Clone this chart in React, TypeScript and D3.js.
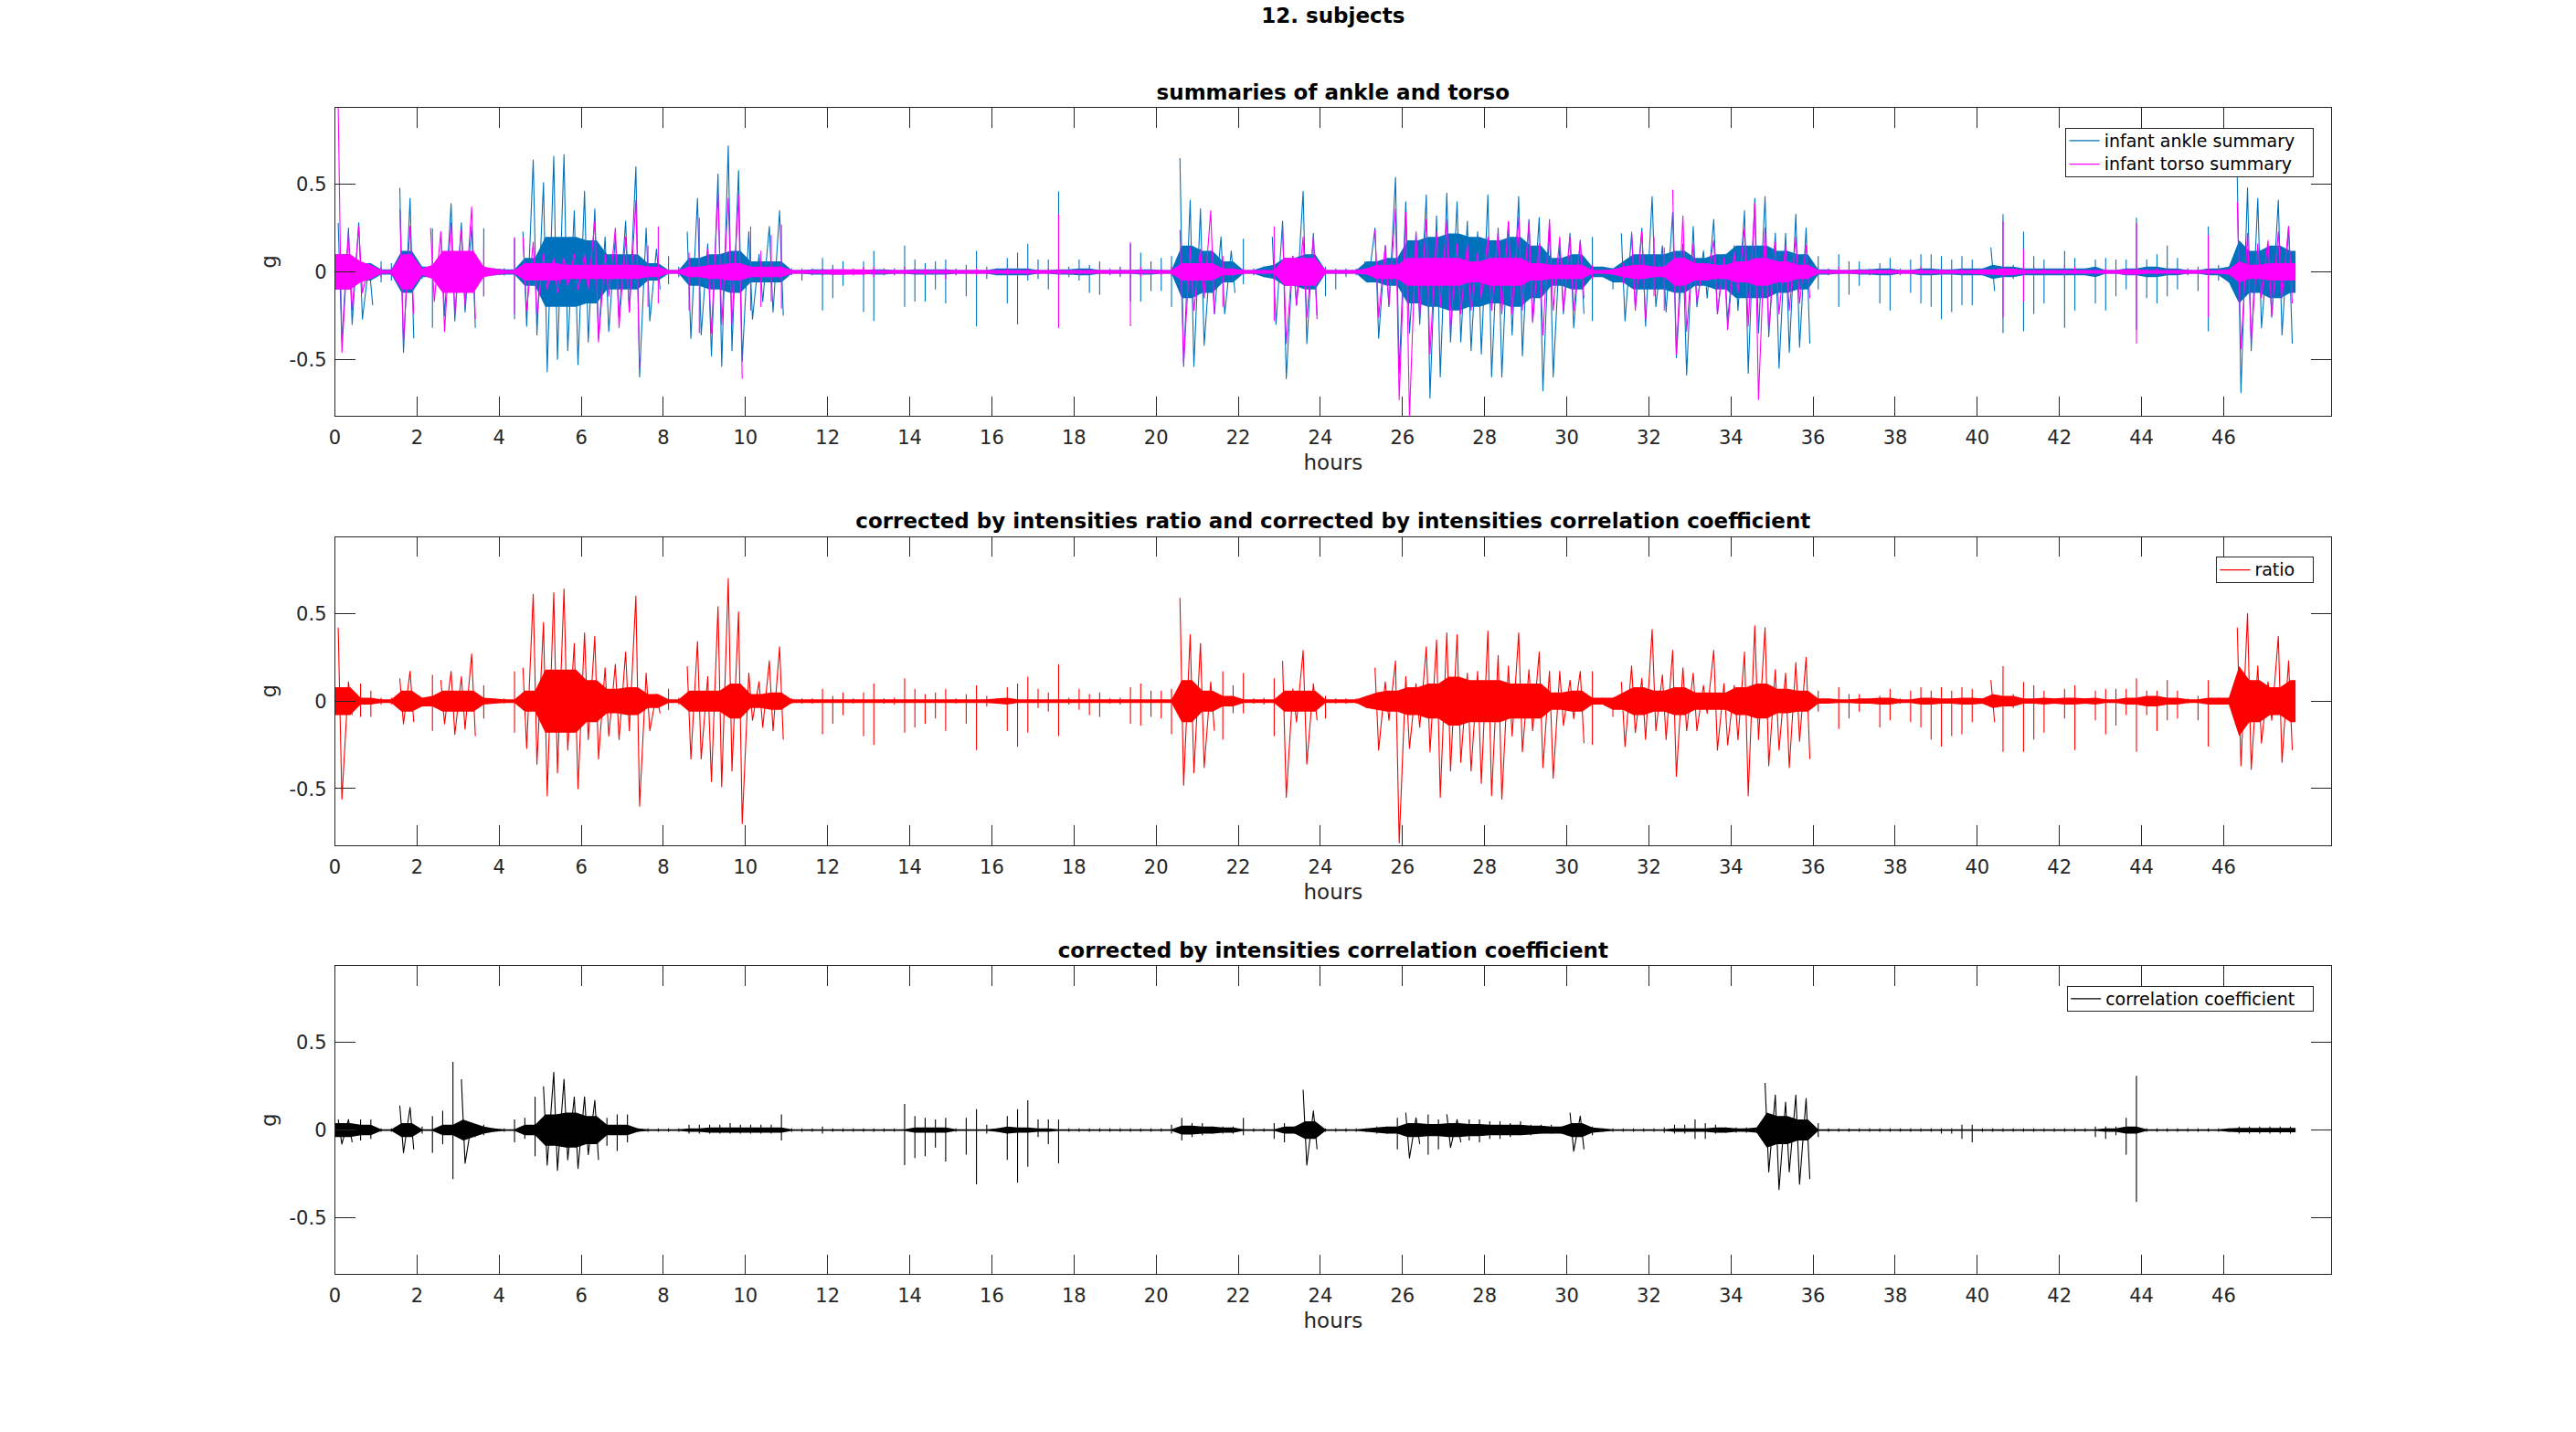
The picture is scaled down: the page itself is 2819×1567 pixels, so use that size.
import * as d3 from 'd3';

// hours covered by one envelope value
const BIN = 0.25;
const CORE_BIN = 0.5;
// band half-width above which consecutive quarter hours are drawn as one running trace
const DENSE = 0.04;

const xTicks = [0, 2, 4, 6, 8, 10, 12, 14, 16, 18, 20, 22, 24, 26, 28, 30, 32, 34, 36, 38, 40, 42, 44, 46];
const yTicks = [-0.5, 0, 0.5];
const xDomain = [0, 48.62];
const yDomain = [-0.825, 0.94];

// envelope: max / min per quarter hour, dense band half-width per half hour
const ankleHi = [
  0.28, 0.25, 0.28, 0.05, 0.06, 0.05, 0.48, 0.42, 0.03, 0.25, 0.23, 0.39, 0.28, 0.26, 0.25, 0.02,
  0.02, 0.19, 0.23, 0.64, 0.51, 0.66, 0.67, 0.35, 0.46, 0.36, 0.2, 0.2, 0.29, 0.6, 0.25, 0.13,
  0.09, 0.03, 0.23, 0.42, 0.16, 0.56, 0.72, 0.58, 0.23, 0.1, 0.26, 0.35, 0.02, 0.02, 0.02, 0.08,
  0.04, 0.06, 0.02, 0.06, 0.12, 0.02, 0.02, 0.15, 0.07, 0.05, 0.06, 0.07, 0.02, 0.04, 0.12, 0.03,
  0.02, 0.08, 0.11, 0.16, 0.07, 0.07, 0.46, 0.03, 0.07, 0.04, 0.06, 0.02, 0.03, 0.16, 0.11, 0.06,
  0.08, 0.09, 0.65, 0.41, 0.36, 0.12, 0.2, 0.12, 0.19, 0.02, 0.03, 0.2, 0.29, 0.09, 0.46, 0.22,
  0.03, 0.02, 0.02, 0.02, 0.06, 0.25, 0.15, 0.54, 0.4, 0.22, 0.44, 0.32, 0.45, 0.4, 0.29, 0.23,
  0.44, 0.25, 0.28, 0.43, 0.3, 0.31, 0.27, 0.15, 0.22, 0.18, 0.2, 0.03, 0.02, 0.22, 0.22, 0.25,
  0.43, 0.15, 0.34, 0.16, 0.26, 0.12, 0.3, 0.1, 0.15, 0.35, 0.42, 0.43, 0.22, 0.22, 0.33, 0.25,
  0.09, 0.02, 0.1, 0.06, 0.06, 0.02, 0.05, 0.08, 0.02, 0.07, 0.1, 0.1, 0.09, 0.07, 0.09, 0.07,
  0.02, 0.14, 0.33, 0.04, 0.23, 0.09, 0.07, 0.02, 0.12, 0.08, 0.02, 0.07, 0.08, 0.07, 0.07, 0.31,
  0.07, 0.1, 0.15, 0.08, 0.02, 0.03, 0.26, 0.04, 0.03, 0.54, 0.48, 0.42, 0.15, 0.41, 0.26,
];
const ankleLo = [
  -0.4, -0.3, -0.27, -0.19, -0.06, -0.05, -0.46, -0.38, -0.04, -0.32, -0.25, -0.28, -0.23, -0.32, -0.14, -0.02,
  -0.02, -0.27, -0.31, -0.36, -0.57, -0.5, -0.45, -0.53, -0.4, -0.38, -0.34, -0.26, -0.23, -0.6, -0.28, -0.1,
  -0.07, -0.03, -0.38, -0.36, -0.48, -0.54, -0.45, -0.51, -0.27, -0.17, -0.23, -0.25, -0.02, -0.05, -0.02, -0.22,
  -0.15, -0.08, -0.02, -0.23, -0.28, -0.02, -0.02, -0.2, -0.17, -0.17, -0.1, -0.18, -0.02, -0.14, -0.31, -0.04,
  -0.02, -0.18, -0.3, -0.05, -0.04, -0.1, -0.32, -0.03, -0.05, -0.12, -0.13, -0.02, -0.03, -0.17, -0.17, -0.11,
  -0.11, -0.2, -0.54, -0.54, -0.42, -0.24, -0.24, -0.12, -0.07, -0.02, -0.03, -0.3, -0.61, -0.19, -0.41, -0.25,
  -0.14, -0.1, -0.03, -0.02, -0.06, -0.38, -0.2, -0.58, -0.35, -0.3, -0.72, -0.6, -0.4, -0.4, -0.45, -0.47,
  -0.6, -0.6, -0.36, -0.48, -0.28, -0.68, -0.6, -0.24, -0.32, -0.24, -0.28, -0.03, -0.1, -0.28, -0.2, -0.31,
  -0.2, -0.23, -0.49, -0.59, -0.2, -0.15, -0.24, -0.28, -0.22, -0.58, -0.35, -0.37, -0.55, -0.46, -0.43, -0.41,
  -0.1, -0.02, -0.2, -0.13, -0.08, -0.02, -0.18, -0.22, -0.02, -0.12, -0.18, -0.2, -0.27, -0.23, -0.19, -0.19,
  -0.02, -0.11, -0.35, -0.04, -0.34, -0.24, -0.18, -0.02, -0.32, -0.22, -0.02, -0.18, -0.22, -0.14, -0.1, -0.33,
  -0.15, -0.18, -0.14, -0.1, -0.02, -0.11, -0.34, -0.05, -0.06, -0.69, -0.45, -0.32, -0.26, -0.36, -0.41,
];
const ankleCore = [
  0.1, 0.05, 0.015, 0.12, 0.03, 0.1, 0.1, 0.02,
  0.015, 0.08, 0.2, 0.2, 0.18, 0.1, 0.1, 0.05,
  0.01, 0.08, 0.1, 0.12, 0.06, 0.06, 0.01, 0.015,
  0.015, 0.01, 0.015, 0.01, 0.015, 0.015, 0.01, 0.01,
  0.02, 0.02, 0.01, 0.015, 0.02, 0.01, 0.01, 0.015,
  0.01, 0.15, 0.12, 0.06, 0.01, 0.04, 0.08, 0.1,
  0.01, 0.01, 0.06, 0.08, 0.18, 0.2, 0.22, 0.2,
  0.18, 0.2, 0.15, 0.08, 0.1, 0.03, 0.06, 0.1,
  0.1, 0.12, 0.08, 0.1, 0.15, 0.15, 0.12, 0.1,
  0.015, 0.01, 0.015, 0.02, 0.01, 0.02, 0.015, 0.02,
  0.04, 0.03, 0.02, 0.02, 0.02, 0.03, 0.01, 0.02,
  0.03, 0.02, 0.01, 0.02, 0.18, 0.12, 0.15, 0.12,
];

const torsoHi = [
  0.94, 0.22, 0.26, 0.04, 0.03, 0.02, 0.36, 0.26, 0.02, 0.25, 0.23, 0.28, 0.24, 0.37, 0.14, 0.02,
  0.02, 0.2, 0.2, 0.17, 0.1, 0.08, 0.08, 0.1, 0.1, 0.29, 0.1, 0.25, 0.2, 0.41, 0.15, 0.26,
  0.02, 0.02, 0.11, 0.31, 0.13, 0.45, 0.42, 0.44, 0.26, 0.12, 0.21, 0.27, 0.015, 0.015, 0.015, 0.02,
  0.02, 0.02, 0.015, 0.03, 0.03, 0.015, 0.015, 0.03, 0.02, 0.02, 0.02, 0.02, 0.015, 0.02, 0.02, 0.015,
  0.015, 0.02, 0.03, 0.02, 0.015, 0.02, 0.33, 0.015, 0.015, 0.015, 0.04, 0.015, 0.02, 0.17, 0.03, 0.02,
  0.015, 0.03, 0.24, 0.14, 0.13, 0.35, 0.09, 0.03, 0.02, 0.015, 0.015, 0.26, 0.26, 0.09, 0.2, 0.2,
  0.02, 0.015, 0.015, 0.015, 0.02, 0.24, 0.15, 0.36, 0.34, 0.23, 0.3, 0.23, 0.3, 0.16, 0.16, 0.11,
  0.2, 0.23, 0.29, 0.31, 0.29, 0.16, 0.3, 0.2, 0.2, 0.18, 0.04, 0.015, 0.015, 0.05, 0.23, 0.23,
  0.2, 0.14, 0.47, 0.32, 0.16, 0.05, 0.18, 0.08, 0.12, 0.25, 0.39, 0.25, 0.17, 0.15, 0.2, 0.15,
  0.02, 0.015, 0.03, 0.015, 0.015, 0.015, 0.02, 0.015, 0.015, 0.015, 0.03, 0.015, 0.015, 0.015, 0.02, 0.015,
  0.015, 0.015, 0.29, 0.02, 0.13, 0.03, 0.02, 0.015, 0.04, 0.03, 0.015, 0.015, 0.02, 0.015, 0.015, 0.28,
  0.02, 0.02, 0.02, 0.015, 0.015, 0.015, 0.21, 0.02, 0.015, 0.4, 0.22, 0.16, 0.18, 0.23, 0.26,
];
const torsoLo = [
  -0.46, -0.22, -0.12, -0.04, -0.03, -0.02, -0.4, -0.24, -0.02, -0.17, -0.34, -0.24, -0.19, -0.27, -0.14, -0.02,
  -0.02, -0.24, -0.22, -0.25, -0.1, -0.12, -0.08, -0.1, -0.1, -0.4, -0.14, -0.32, -0.23, -0.55, -0.2, -0.18,
  -0.02, -0.02, -0.22, -0.35, -0.35, -0.3, -0.3, -0.61, -0.22, -0.2, -0.17, -0.21, -0.015, -0.015, -0.015, -0.02,
  -0.02, -0.02, -0.015, -0.02, -0.03, -0.015, -0.015, -0.02, -0.02, -0.02, -0.02, -0.04, -0.015, -0.02, -0.02, -0.015,
  -0.015, -0.02, -0.02, -0.02, -0.015, -0.015, -0.32, -0.015, -0.015, -0.015, -0.02, -0.015, -0.015, -0.31, -0.03, -0.02,
  -0.02, -0.02, -0.52, -0.22, -0.15, -0.24, -0.2, -0.03, -0.015, -0.015, -0.015, -0.28, -0.41, -0.19, -0.26, -0.27,
  -0.015, -0.015, -0.015, -0.015, -0.015, -0.26, -0.19, -0.73, -0.83, -0.25, -0.47, -0.2, -0.33, -0.24, -0.22, -0.15,
  -0.22, -0.24, -0.24, -0.22, -0.29, -0.36, -0.22, -0.22, -0.22, -0.15, -0.04, -0.015, -0.015, -0.07, -0.22, -0.27,
  -0.14, -0.22, -0.47, -0.34, -0.17, -0.05, -0.24, -0.33, -0.12, -0.31, -0.73, -0.33, -0.24, -0.22, -0.18, -0.15,
  -0.02, -0.015, -0.015, -0.015, -0.015, -0.015, -0.015, -0.015, -0.015, -0.015, -0.015, -0.015, -0.015, -0.015, -0.015, -0.015,
  -0.015, -0.015, -0.26, -0.02, -0.17, -0.015, -0.015, -0.015, -0.03, -0.015, -0.015, -0.015, -0.015, -0.015, -0.015, -0.41,
  -0.015, -0.015, -0.015, -0.015, -0.015, -0.015, -0.26, -0.015, -0.015, -0.44, -0.4, -0.15, -0.25, -0.15, -0.18,
];
const torsoCore = [
  0.1, 0.06, 0.01, 0.1, 0.04, 0.12, 0.12, 0.03,
  0.01, 0.05, 0.05, 0.04, 0.04, 0.04, 0.04, 0.03,
  0.01, 0.03, 0.04, 0.05, 0.03, 0.03, 0.01, 0.01,
  0.015, 0.015, 0.01, 0.01, 0.01, 0.01, 0.01, 0.01,
  0.01, 0.01, 0.01, 0.01, 0.01, 0.01, 0.01, 0.01,
  0.01, 0.05, 0.05, 0.02, 0.01, 0.01, 0.08, 0.08,
  0.01, 0.01, 0.04, 0.04, 0.08, 0.08, 0.08, 0.06,
  0.08, 0.08, 0.05, 0.04, 0.04, 0.01, 0.03, 0.04,
  0.03, 0.08, 0.05, 0.04, 0.06, 0.08, 0.06, 0.04,
  0.01, 0.01, 0.01, 0.01, 0.01, 0.01, 0.01, 0.01,
  0.015, 0.02, 0.01, 0.01, 0.01, 0.01, 0.01, 0.015,
  0.01, 0.01, 0.01, 0.01, 0.06, 0.04, 0.05, 0.05,
];

const ratioHi = [
  0.42, 0.11, 0.1, 0.06, 0.02, 0.02, 0.13, 0.17, 0.02, 0.15, 0.12, 0.17, 0.14, 0.27, 0.09, 0.015,
  0.015, 0.17, 0.19, 0.61, 0.45, 0.62, 0.64, 0.33, 0.39, 0.37, 0.19, 0.21, 0.28, 0.6, 0.16, 0.04,
  0.07, 0.02, 0.2, 0.34, 0.14, 0.54, 0.7, 0.51, 0.16, 0.11, 0.23, 0.31, 0.015, 0.015, 0.015, 0.07,
  0.03, 0.05, 0.015, 0.05, 0.1, 0.015, 0.02, 0.13, 0.07, 0.04, 0.05, 0.07, 0.015, 0.04, 0.09, 0.03,
  0.015, 0.08, 0.1, 0.14, 0.07, 0.05, 0.21, 0.02, 0.07, 0.04, 0.05, 0.015, 0.02, 0.08, 0.1, 0.06,
  0.06, 0.07, 0.59, 0.38, 0.33, 0.11, 0.17, 0.09, 0.16, 0.015, 0.02, 0.13, 0.23, 0.07, 0.29, 0.1,
  0.03, 0.015, 0.015, 0.015, 0.03, 0.19, 0.11, 0.23, 0.14, 0.1, 0.31, 0.35, 0.39, 0.38, 0.16, 0.17,
  0.4, 0.26, 0.2, 0.39, 0.18, 0.28, 0.17, 0.17, 0.12, 0.17, 0.17, 0.02, 0.02, 0.11, 0.2, 0.13,
  0.41, 0.15, 0.29, 0.19, 0.16, 0.09, 0.29, 0.1, 0.09, 0.28, 0.43, 0.42, 0.18, 0.16, 0.22, 0.25,
  0.06, 0.015, 0.08, 0.04, 0.04, 0.015, 0.03, 0.07, 0.015, 0.06, 0.08, 0.06, 0.08, 0.06, 0.08, 0.07,
  0.015, 0.12, 0.2, 0.04, 0.11, 0.09, 0.06, 0.015, 0.07, 0.09, 0.015, 0.06, 0.07, 0.07, 0.07, 0.13,
  0.06, 0.06, 0.12, 0.06, 0.015, 0.03, 0.12, 0.02, 0.02, 0.42, 0.5, 0.2, 0.11, 0.37, 0.23,
];
const ratioLo = [
  -0.56, -0.08, -0.09, -0.09, -0.02, -0.02, -0.13, -0.12, -0.03, -0.17, -0.13, -0.19, -0.16, -0.2, -0.1, -0.015,
  -0.015, -0.18, -0.27, -0.36, -0.54, -0.41, -0.28, -0.5, -0.22, -0.33, -0.2, -0.22, -0.17, -0.6, -0.17, -0.07,
  -0.05, -0.02, -0.33, -0.33, -0.46, -0.49, -0.4, -0.7, -0.11, -0.15, -0.17, -0.22, -0.015, -0.015, -0.015, -0.19,
  -0.13, -0.08, -0.015, -0.2, -0.25, -0.015, -0.02, -0.18, -0.15, -0.13, -0.1, -0.17, -0.015, -0.13, -0.28, -0.03,
  -0.015, -0.17, -0.26, -0.18, -0.04, -0.06, -0.2, -0.02, -0.05, -0.08, -0.09, -0.015, -0.02, -0.13, -0.14, -0.09,
  -0.1, -0.19, -0.48, -0.41, -0.38, -0.17, -0.22, -0.07, -0.07, -0.015, -0.02, -0.2, -0.55, -0.12, -0.36, -0.11,
  -0.1, -0.015, -0.015, -0.015, -0.04, -0.28, -0.11, -0.81, -0.27, -0.15, -0.29, -0.55, -0.4, -0.35, -0.4, -0.47,
  -0.54, -0.56, -0.2, -0.29, -0.17, -0.38, -0.44, -0.14, -0.1, -0.24, -0.25, -0.02, -0.09, -0.26, -0.18, -0.22,
  -0.17, -0.22, -0.43, -0.17, -0.17, -0.07, -0.28, -0.25, -0.22, -0.54, -0.22, -0.37, -0.28, -0.38, -0.23, -0.33,
  -0.06, -0.015, -0.16, -0.1, -0.06, -0.015, -0.15, -0.11, -0.015, -0.12, -0.15, -0.22, -0.26, -0.2, -0.19, -0.12,
  -0.015, -0.12, -0.29, -0.04, -0.29, -0.22, -0.18, -0.015, -0.1, -0.28, -0.015, -0.11, -0.19, -0.14, -0.08, -0.29,
  -0.08, -0.17, -0.11, -0.1, -0.015, -0.11, -0.26, -0.02, -0.02, -0.37, -0.39, -0.24, -0.11, -0.35, -0.28,
];
const ratioCore = [
  0.08, 0.02, 0.01, 0.06, 0.03, 0.06, 0.06, 0.02,
  0.01, 0.06, 0.18, 0.18, 0.12, 0.07, 0.08, 0.04,
  0.01, 0.06, 0.06, 0.1, 0.04, 0.05, 0.01, 0.01,
  0.01, 0.01, 0.01, 0.01, 0.01, 0.01, 0.01, 0.01,
  0.02, 0.01, 0.01, 0.01, 0.01, 0.01, 0.01, 0.01,
  0.01, 0.12, 0.06, 0.03, 0.01, 0.01, 0.06, 0.06,
  0.01, 0.01, 0.05, 0.06, 0.08, 0.1, 0.14, 0.12,
  0.12, 0.1, 0.1, 0.05, 0.06, 0.02, 0.05, 0.08,
  0.06, 0.08, 0.05, 0.05, 0.08, 0.1, 0.07, 0.06,
  0.015, 0.01, 0.015, 0.02, 0.01, 0.02, 0.015, 0.02,
  0.04, 0.03, 0.015, 0.02, 0.02, 0.02, 0.01, 0.02,
  0.03, 0.02, 0.01, 0.02, 0.2, 0.12, 0.08, 0.12,
];

const corrHi = [
  0.06, 0.06, 0.06, 0.06, 0.01, 0.01, 0.14, 0.13, 0.02, 0.08, 0.11, 0.39, 0.29, 0.04, 0.03, 0.01,
  0.01, 0.06, 0.07, 0.19, 0.25, 0.33, 0.29, 0.19, 0.19, 0.17, 0.07, 0.09, 0.09, 0.01, 0.01, 0.01,
  0.01, 0.01, 0.03, 0.03, 0.03, 0.03, 0.04, 0.03, 0.03, 0.03, 0.03, 0.09, 0.01, 0.01, 0.01, 0.02,
  0.01, 0.01, 0.01, 0.01, 0.01, 0.01, 0.01, 0.15, 0.08, 0.07, 0.06, 0.07, 0.01, 0.07, 0.12, 0.03,
  0.01, 0.08, 0.12, 0.17, 0.06, 0.06, 0.06, 0.01, 0.01, 0.01, 0.01, 0.01, 0.01, 0.01, 0.01, 0.01,
  0.01, 0.03, 0.07, 0.04, 0.04, 0.02, 0.02, 0.02, 0.07, 0.01, 0.01, 0.04, 0.04, 0.02, 0.23, 0.11,
  0.01, 0.01, 0.01, 0.01, 0.01, 0.02, 0.02, 0.07, 0.1, 0.07, 0.09, 0.06, 0.09, 0.06, 0.06, 0.06,
  0.05, 0.05, 0.04, 0.05, 0.03, 0.03, 0.03, 0.02, 0.1, 0.08, 0.02, 0.01, 0.01, 0.01, 0.01, 0.01,
  0.01, 0.015, 0.03, 0.03, 0.06, 0.04, 0.03, 0.015, 0.015, 0.015, 0.015, 0.27, 0.2, 0.16, 0.2, 0.18,
  0.04, 0.01, 0.01, 0.01, 0.01, 0.01, 0.01, 0.01, 0.01, 0.01, 0.01, 0.01, 0.01, 0.01, 0.03, 0.03,
  0.01, 0.01, 0.01, 0.01, 0.01, 0.01, 0.01, 0.01, 0.01, 0.01, 0.01, 0.02, 0.02, 0.02, 0.07, 0.31,
  0.01, 0.01, 0.01, 0.01, 0.01, 0.01, 0.01, 0.01, 0.01, 0.02, 0.02, 0.02, 0.02, 0.02, 0.02,
];
const corrLo = [
  -0.08, -0.07, -0.06, -0.05, -0.01, -0.01, -0.13, -0.11, -0.02, -0.13, -0.08, -0.28, -0.19, -0.04, -0.03, -0.01,
  -0.01, -0.07, -0.05, -0.15, -0.2, -0.23, -0.17, -0.22, -0.14, -0.17, -0.09, -0.12, -0.07, -0.01, -0.01, -0.01,
  -0.01, -0.01, -0.02, -0.02, -0.02, -0.02, -0.02, -0.02, -0.02, -0.02, -0.02, -0.06, -0.01, -0.01, -0.01, -0.02,
  -0.01, -0.01, -0.01, -0.01, -0.01, -0.01, -0.01, -0.2, -0.16, -0.15, -0.1, -0.18, -0.01, -0.14, -0.31, -0.02,
  -0.01, -0.17, -0.3, -0.21, -0.04, -0.08, -0.19, -0.01, -0.01, -0.01, -0.01, -0.01, -0.01, -0.01, -0.01, -0.01,
  -0.01, -0.02, -0.06, -0.04, -0.03, -0.02, -0.02, -0.02, -0.03, -0.01, -0.01, -0.05, -0.07, -0.02, -0.2, -0.11,
  -0.01, -0.01, -0.01, -0.01, -0.01, -0.02, -0.02, -0.11, -0.16, -0.08, -0.14, -0.11, -0.1, -0.07, -0.06, -0.07,
  -0.05, -0.05, -0.04, -0.03, -0.03, -0.02, -0.02, -0.02, -0.12, -0.11, -0.03, -0.01, -0.01, -0.01, -0.01, -0.01,
  -0.01, -0.015, -0.02, -0.02, -0.05, -0.05, -0.02, -0.015, -0.015, -0.015, -0.015, -0.24, -0.34, -0.24, -0.31, -0.28,
  -0.04, -0.01, -0.01, -0.01, -0.01, -0.01, -0.01, -0.01, -0.01, -0.01, -0.01, -0.01, -0.02, -0.02, -0.05, -0.07,
  -0.01, -0.01, -0.01, -0.01, -0.01, -0.01, -0.01, -0.01, -0.01, -0.01, -0.01, -0.04, -0.05, -0.03, -0.14, -0.41,
  -0.01, -0.01, -0.01, -0.01, -0.01, -0.01, -0.01, -0.01, -0.01, -0.02, -0.02, -0.02, -0.02, -0.02, -0.02,
];
const corrCore = [
  0.04, 0.03, 0.005, 0.04, 0.005, 0.03, 0.06, 0.02,
  0.005, 0.03, 0.09, 0.1, 0.08, 0.03, 0.03, 0.005,
  0.005, 0.01, 0.015, 0.015, 0.015, 0.015, 0.005, 0.005,
  0.005, 0.005, 0.005, 0.005, 0.015, 0.015, 0.005, 0.005,
  0.02, 0.015, 0.01, 0.005, 0.005, 0.005, 0.005, 0.005,
  0.005, 0.025, 0.02, 0.015, 0.005, 0.005, 0.02, 0.05,
  0.005, 0.005, 0.015, 0.02, 0.04, 0.035, 0.04, 0.035,
  0.03, 0.03, 0.025, 0.02, 0.04, 0.015, 0.005, 0.005,
  0.005, 0.01, 0.01, 0.015, 0.01, 0.1, 0.08, 0.06,
  0.005, 0.005, 0.005, 0.005, 0.005, 0.005, 0.005, 0.005,
  0.005, 0.005, 0.005, 0.005, 0.005, 0.005, 0.01, 0.02,
  0.005, 0.005, 0.005, 0.005, 0.012, 0.012, 0.012, 0.012,
];

type Series = { label: string; color: string; hi: number[]; lo: number[]; core: number[] };

const panels: { title: string; series: Series[] }[] = [
  {
    title: 'summaries of ankle and torso',
    series: [
      { label: 'infant ankle summary', color: '#0072BD', hi: ankleHi, lo: ankleLo, core: ankleCore },
      { label: 'infant torso summary', color: '#FF00FF', hi: torsoHi, lo: torsoLo, core: torsoCore },
    ],
  },
  {
    title: 'corrected by intensities ratio and corrected by intensities correlation coefficient',
    series: [{ label: 'ratio', color: '#FF0000', hi: ratioHi, lo: ratioLo, core: ratioCore }],
  },
  {
    title: 'corrected by intensities correlation coefficient',
    series: [{ label: 'correlation coefficient', color: '#000000', hi: corrHi, lo: corrLo, core: corrCore }],
  },
];

const W = 2819;
const H = 1567;
const left = 366.5;
const plotW = 2184.7;
const plotH = 338;
const tops = [117.5, 587.2, 1056.6];
const tickLen = 22;
const font = '"DejaVu Sans", sans-serif';
const axisColor = '#262626';

let ctx: CanvasRenderingContext2D | null = null;
function textWidth(s: string, size: number) {
  if (!ctx) ctx = document.createElement('canvas').getContext('2d');
  if (!ctx) return s.length * size * 0.55;
  ctx.font = `${size}px "DejaVu Sans"`;
  return ctx.measureText(s).width;
}

function Trace({ s, x, y }: { s: Series; x: d3.ScaleLinear<number, number>; y: d3.ScaleLinear<number, number> }) {
  const end = s.hi.length * BIN;

  // dense band: each quarter hour takes the band of its half hour, but never beyond its own max / min
  const band = s.hi.map((h, i) => {
    const c = s.core[Math.floor((i * BIN) / CORE_BIN)];
    return { t: i * BIN + BIN / 2, top: Math.min(c, h), bot: Math.max(-c, s.lo[i]) };
  });
  const bandPts = [
    { t: 0, top: band[0].top, bot: band[0].bot },
    ...band,
    { t: end, top: band[band.length - 1].top, bot: band[band.length - 1].bot },
  ];
  const area = d3
    .area<{ t: number; top: number; bot: number }>()
    .x((d) => x(d.t))
    .y0((d) => y(d.bot))
    .y1((d) => y(d.top));

  // the trace: max then min of each quarter hour; runs on through busy stretches,
  // stands as separate vertical strokes where the record is quiet
  const trace = d3.path();
  s.hi.forEach((h, i) => {
    const busy = band[i].top >= DENSE;
    const joined = i > 0 && busy && band[i - 1].top >= DENSE;
    const xa = x(i * BIN + (busy ? 0.08 : 0.125));
    const xb = x(i * BIN + (busy ? 0.17 : 0.125));
    if (joined) trace.lineTo(xa, y(h));
    else trace.moveTo(xa, y(h));
    trace.lineTo(xb, y(s.lo[i]));
  });

  return (
    <g>
      <path d={area(bandPts) ?? ''} fill={s.color} />
      <path d={trace.toString()} fill="none" stroke={s.color} strokeWidth={1.1} strokeLinejoin="round" />
    </g>
  );
}

function Panel({ idx }: { idx: number }) {
  const { title, series } = panels[idx];
  const top = tops[idx];
  const bottom = top + plotH;
  const right = left + plotW;
  const x = d3.scaleLinear(xDomain, [left, right]);
  const y = d3.scaleLinear(yDomain, [bottom, top]);

  const rowH = 25.7;
  const legW = 42 + d3.max(series, (s) => textWidth(s.label, 19))! + 20;
  const legH = series.length * rowH + 2;
  const legX = right - 20 - legW;
  const legY = top + 22.5;

  return (
    <g>
      <defs>
        <clipPath id={`clip${idx}`}>
          <rect x={left} y={top} width={plotW} height={plotH} />
        </clipPath>
      </defs>
      <rect x={left} y={top} width={plotW} height={plotH} fill="#fff" />
      <g clipPath={`url(#clip${idx})`}>
        {series.map((s) => (
          <Trace key={s.label} s={s} x={x} y={y} />
        ))}
      </g>

      <g stroke={axisColor} strokeWidth={1} shapeRendering="crispEdges">
        <rect x={left} y={top} width={plotW} height={plotH} fill="none" />
        {xTicks.map((t) => (
          <g key={t}>
            <line x1={x(t)} x2={x(t)} y1={bottom} y2={bottom - tickLen} />
            <line x1={x(t)} x2={x(t)} y1={top} y2={top + tickLen} />
          </g>
        ))}
        {yTicks.map((t) => (
          <g key={t}>
            <line x1={left} x2={left + tickLen} y1={y(t)} y2={y(t)} />
            <line x1={right} x2={right - tickLen} y1={y(t)} y2={y(t)} />
          </g>
        ))}
      </g>

      <g fontFamily={font} fill={axisColor}>
        {xTicks.map((t) => (
          <text key={t} x={x(t)} y={bottom + 30.5} fontSize={21} textAnchor="middle">
            {t}
          </text>
        ))}
        {yTicks.map((t) => (
          <text key={t} x={left - 9} y={y(t)} dy="0.36em" fontSize={21} textAnchor="end">
            {String(t)}
          </text>
        ))}
        <text x={left + plotW / 2} y={bottom + 58.5} fontSize={23} textAnchor="middle">
          hours
        </text>
        <text transform={`translate(302,${top + plotH / 2}) rotate(-90)`} fontSize={23} textAnchor="middle">
          g
        </text>
      </g>

      <text
        x={left + plotW / 2}
        y={top - 9}
        fontFamily={font}
        fontSize={23}
        fontWeight="bold"
        textAnchor="middle"
        fill="#000"
      >
        {title}
      </text>

      <g>
        <rect
          x={legX}
          y={legY}
          width={legW}
          height={legH}
          fill="#fff"
          stroke={axisColor}
          strokeWidth={1}
          shapeRendering="crispEdges"
        />
        {series.map((s, i) => {
          const cy = legY + 1 + rowH * (i + 0.5);
          return (
            <g key={s.label}>
              <line x1={legX + 4} x2={legX + 37} y1={cy} y2={cy} stroke={s.color} strokeWidth={1.2} />
              <text x={legX + 42} y={cy} dy="0.36em" fontFamily={font} fontSize={19} fill="#000">
                {s.label}
              </text>
            </g>
          );
        })}
      </g>
    </g>
  );
}

export default function App() {
  return (
    <svg
      width={W}
      height={H}
      viewBox={`0 0 ${W} ${H}`}
      style={{ position: 'absolute', left: 0, top: 0, background: '#fff' }}
    >
      <rect width={W} height={H} fill="#fff" />
      <text x={left + plotW / 2} y={24.5} fontFamily={font} fontSize={23} fontWeight="bold" textAnchor="middle">
        12. subjects
      </text>
      {panels.map((_, i) => (
        <Panel key={i} idx={i} />
      ))}
    </svg>
  );
}
